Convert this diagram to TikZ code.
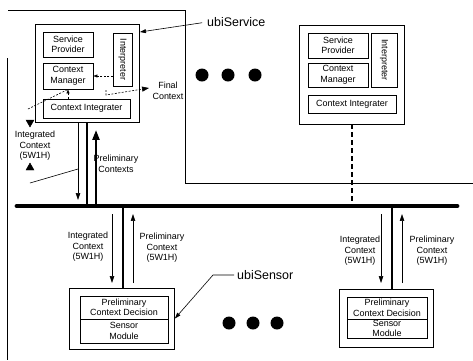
\documentclass[tikz,border=0pt]{standalone}
\usepackage{fontspec}
\setmainfont{Liberation Sans}
\usetikzlibrary{arrows.meta}
\begin{document}
\begin{tikzpicture}[x=1bp,y=-1bp,
  box/.style={draw, line width=0.8pt, inner sep=0pt, align=center, font=\fontsize{9}{10.5}\selectfont},
  lbl/.style={align=center, inner sep=0pt, font=\fontsize{9}{10.5}\selectfont},
  big/.style={inner sep=0pt, font=\fontsize{12.5}{14}\selectfont},
  thinl/.style={line width=0.6pt},
  tarrow/.style={line width=0.6pt, -{Triangle[length=7pt,width=4.5pt]}},
  Tarrow/.style={line width=2.2pt, -{Triangle[length=10pt,width=7pt]}},
  conn/.style={line width=2.6pt},
  dsh/.style={line width=0.6pt, dash pattern=on 2pt off 1.5pt},
  bigdot/.style={circle, fill, inner sep=0pt, minimum size=13bp},
  tri/.style={draw, fill, line width=0.4pt, line join=miter}
]
\useasboundingbox (0,0) rectangle (473,360);

% frame lines
\draw[thinl] (8,10) -- (185,10) -- (185,183) -- (473,183);
\draw[thinl] (7,58) -- (7,360);

% bus
\coordinate (busL) at (17,206);
\coordinate (busR) at (457,206);
\draw[line width=4.8pt, line cap=round] (busL) -- (busR);

% left ubiService
\node[box, minimum width=104bp, minimum height=98bp] (U1) at (87,73) {};
\node[box, minimum width=50bp, minimum height=25bp] (SP1) at (68,44.5) {Service\\Provider};
\node[box, minimum width=50bp, minimum height=26bp] (CM1) at (68,76) {Context\\Manager};
\node[box, minimum width=19bp, minimum height=53bp] (IN1) at (122.5,59.5) {\rotatebox{-90}{Interpreter}};
\node[box, minimum width=87bp, minimum height=19bp] (CI1) at (86.5,108.5) {Context Integrater};

% right ubiService
\node[box, minimum width=105bp, minimum height=99bp] (U2) at (351.5,74.5) {};
\node[box, minimum width=60bp, minimum height=25bp] (SP2) at (338,45.5) {Service\\Provider};
\node[box, minimum width=60bp, minimum height=24bp] (CM2) at (338,75) {Context\\Manager};
\node[box, minimum width=26bp, minimum height=54bp] (IN2) at (384,60) {\rotatebox{-90}{Interpreter}};
\node[box, minimum width=88bp, minimum height=18bp] (CI2) at (352,104) {Context Integrater};

% left ubiSensor
\node[box, minimum width=105bp, minimum height=61bp] (S1) at (122,318.5) {};
\node[box, minimum width=88bp, minimum height=23bp] (PCD1) at (124,307.5) {Preliminary\\Context Decision};
\node[box, minimum width=88bp, minimum height=24bp] (SM1) at (124,331) {Sensor\\Module};

% right ubiSensor
\node[box, minimum width=94bp, minimum height=58bp] (S2) at (386,318) {};
\node[box, minimum width=80bp, minimum height=22bp] (PCD2) at (387,308) {Preliminary\\Context Decision};
\node[box, minimum width=80bp, minimum height=19bp] (SM2) at (387,328.5) {Sensor\\Module};

% dots
\node[bigdot] (t1) at (202,75) {};
\node[bigdot] (t2) at (228,75) {};
\node[bigdot] (t3) at (255,75) {};
\node[bigdot] (b1) at (229,323) {};
\node[bigdot] (b2) at (253,323) {};
\node[bigdot] (b3) at (277,323) {};

% left ubiService to bus
\coordinate (c1) at (87,206);
\coordinate (d1) at (78,200);
\coordinate (u1) at (96,130);
\draw[conn] (U1.south -| c1) -- (c1);
\draw[tarrow] (U1.south -| d1) -- (d1);
\draw[Tarrow] (c1 -| u1) -- (u1);

% right ubiService to bus (dashed)
\coordinate (c3) at (352,206);
\draw[line width=2.8pt, dash pattern=on 5pt off 3pt] (U2.south -| c3) -- (c3);

% left sensor
\coordinate (c2) at (123,206);
\coordinate (d2a) at (112,214);
\coordinate (d2b) at (112,283);
\coordinate (u2a) at (133,283);
\coordinate (u2b) at (133,214);
\draw[conn] (c2) -- (c2 |- S1.north);
\draw[tarrow] (d2a) -- (d2b);
\draw[tarrow] (u2a) -- (u2b);

% right sensor
\coordinate (c4) at (392,206);
\coordinate (d4a) at (381,214);
\coordinate (d4b) at (381,283);
\coordinate (u4a) at (402,283);
\coordinate (u4b) at (402,214);
\draw[conn] (c4) -- (c4 |- S2.north);
\draw[tarrow] (d4a) -- (d4b);
\draw[tarrow] (u4a) -- (u4b);

% internal dashed arrows
\draw[dsh, -{Triangle[length=4pt,width=3pt]}] (IN1.west |- CM1.east) -- (CM1.east);
\draw[dsh, -{Triangle[length=4pt,width=3pt]}] (CI1.north -| CM1.south) -- (CM1.south);
\coordinate (ic) at (28,109);
\draw[dsh] (ic) -- (CM1.south);
\coordinate (fc0) at (106,90);
\coordinate (fc1) at (106,95);
\coordinate (fc2) at (149,88);
\draw[dsh, -{Triangle[length=7pt,width=5pt]}] (fc0) -- (fc1) -- (fc2);

% labels
\node[lbl] (finl) at (168,91) {Final\\Context};
\node[lbl] (ilab) at (35,146) {Integrated\\Context\\(5W1H)};
\coordinate (tv) at (30,127);
\coordinate (ta) at (30,163);
\path[tri] (tv) -- ++(-4,-7) -- ++(8,0) -- cycle;
\path[tri] (ta) -- ++(-4,7) -- ++(8,0) -- cycle;
\coordinate (ll0) at (30,183);
\coordinate (ll1) at (78,169);
\draw[thinl] (ll0) -- (ll1);
\node[lbl] (plab) at (116,164) {Preliminary\\Contexts};

\node[lbl] (il1) at (88,247) {Integrated\\Context\\(5W1H)};
\node[lbl] (pl1) at (162,248) {Preliminary\\Context\\(5W1H)};
\node[lbl] (il2) at (360,251) {Integrated\\Context\\(5W1H)};
\node[lbl] (pl2) at (432,251) {Preliminary\\Context\\(5W1H)};

\node[big, anchor=west] (lsvc) at (207,22) {ubiService};
\coordinate (svctip) at (140,32);
\draw[thinl, -{Triangle[length=6pt,width=4pt]}, shorten <=5bp] (lsvc.west) -- (svctip);

\node[big, anchor=west] (lsen) at (237,275) {ubiSensor};
\draw[thinl, -{Triangle[length=6pt,width=4pt]}] ([xshift=-3bp]lsen.west) -- ++(-21,0) -- (S1.east);
\end{tikzpicture}
\end{document}
